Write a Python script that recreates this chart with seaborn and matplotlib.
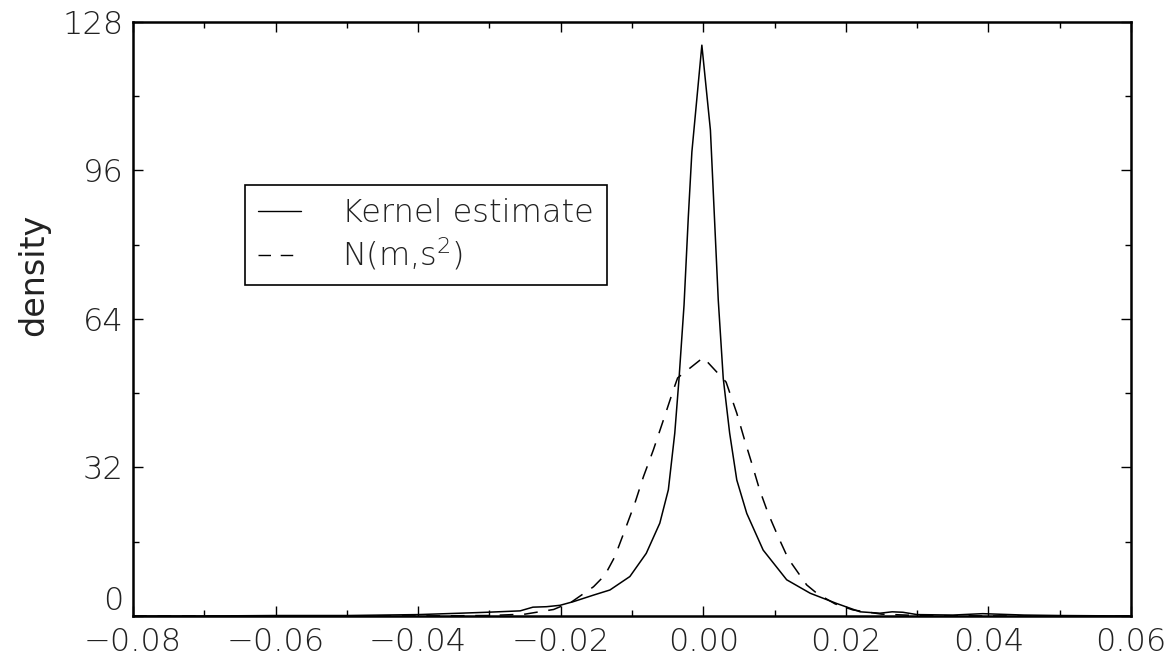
import matplotlib
matplotlib.use("Agg")
import matplotlib.pyplot as plt
from matplotlib.ticker import MultipleLocator
import seaborn as sns
import pandas as pd

# ---- data ----
kernel_x = [-0.080, -0.070, -0.060, -0.050, -0.045, -0.040, -0.0341, -0.0304, -0.0257,
            -0.0239, -0.0220, -0.0201, -0.0182, -0.0154, -0.0131, -0.0103, -0.0080,
            -0.0061, -0.0049, -0.0040, -0.0034, -0.0027, -0.0021, -0.0016, -0.0002,
            0.0010, 0.0021, 0.0028, 0.0037, 0.0047, 0.0061, 0.0084, 0.0117, 0.0150,
            0.0187, 0.0220, 0.0248, 0.0265, 0.0280, 0.0300, 0.0350, 0.0392, 0.0450,
            0.0500, 0.0600]
kernel_y = [0.0, 0.0, 0.1, 0.1, 0.2, 0.3, 0.6, 0.8, 1.1,
            1.9, 2.0, 2.3, 3.1, 4.5, 5.6, 8.5, 13.5,
            20.0, 27.2, 39.4, 51.2, 67.0, 86.0, 100.0, 123.0,
            104.7, 68.1, 51.2, 39.4, 29.3, 22.1, 14.2, 7.8, 4.9,
            2.7, 0.9, 0.6, 0.9, 0.8, 0.3, 0.2, 0.5, 0.2,
            0.1, 0.0]

normal_x = [-0.080, -0.040, -0.030, -0.025, -0.021, -0.0185, -0.0154, -0.0138, -0.0124,
            -0.0110, -0.0096, -0.0084, -0.0070, -0.0056, -0.0042, -0.0036, 0.0000,
            0.0032, 0.0047, 0.0058, 0.0068, 0.0079, 0.0091, 0.0105, 0.0119, 0.0145,
            0.0160, 0.0185, 0.0210, 0.0250, 0.0300, 0.0400, 0.0600]
normal_y = [0.0, 0.0, 0.1, 0.4, 1.4, 3.0, 6.3, 8.8, 12.8,
            18.5, 24.3, 30.0, 35.8, 42.2, 48.7, 51.3, 55.7,
            50.4, 43.7, 37.9, 32.9, 27.2, 22.1, 17.1, 12.4, 6.7,
            4.8, 2.6, 1.3, 0.4, 0.1, 0.0, 0.0]

series_labels = ["Kernel estimate", r"N(m,s$^2$)"]
x_ticks = [-0.08, -0.06, -0.04, -0.02, 0.00, 0.02, 0.04, 0.06]
x_tick_labels = ["\u22120.08", "\u22120.06", "\u22120.04", "\u22120.02", "0.00", "0.02", "0.04", "0.06"]
y_ticks = [0, 32, 64, 96, 128]
y_tick_labels = ["0", "32", "64", "96", "128"]
y_label = "density"

# ---- style ----
sns.set_style("white")
plt.rcParams["font.family"] = ["DejaVu Sans"]
plt.rcParams["font.weight"] = "light"
plt.rcParams["mathtext.fontset"] = "dejavusans"

fig = plt.figure(figsize=(11.72, 6.56), dpi=100)
ax = fig.add_axes([0.1135, 0.061, 0.8515, 0.9055])

df_k = pd.DataFrame({"x": kernel_x, "y": kernel_y})
df_n = pd.DataFrame({"x": normal_x, "y": normal_y})

sns.lineplot(data=df_k, x="x", y="y", ax=ax, color="black", linewidth=1.1,
             label=series_labels[0], sort=False, estimator=None)
sns.lineplot(data=df_n, x="x", y="y", ax=ax, color="black", linewidth=1.1,
             label=series_labels[1], sort=False, estimator=None, dashes=False)
ax.lines[1].set_dashes([9, 7])

ax.set_xlim(-0.08, 0.06)
ax.set_ylim(0, 128)
ax.set_xticks(x_ticks)
ax.set_xticklabels(x_tick_labels)
ax.set_yticks(y_ticks)
ax.set_yticklabels(y_tick_labels)
ax.xaxis.set_minor_locator(MultipleLocator(0.01))
ax.yaxis.set_minor_locator(MultipleLocator(16))

ax.tick_params(which="both", direction="in", top=True, right=True, bottom=True, left=True,
               colors="black", width=1.0)
ax.tick_params(which="major", length=7, labelsize=23)
ax.tick_params(which="minor", length=4)
ax.tick_params(axis="x", which="major", pad=8)
ax.tick_params(axis="y", which="major", pad=7)
for lab in ax.get_xticklabels() + ax.get_yticklabels():
    lab.set_color("#222222")
# the "0" on the y axis sits just above the corner in the reference
ax.get_yticklabels()[0].set_verticalalignment("bottom")

for sp in ax.spines.values():
    sp.set_visible(True)
    sp.set_color("black")
    sp.set_linewidth(1.8)

ax.set_xlabel("")
ax.set_ylabel(y_label, fontsize=24, color="#222222")
ax.yaxis.set_label_coords(-0.083, 0.574)

leg = ax.legend(loc="upper left", bbox_to_anchor=(0.112, 0.7256), borderaxespad=0,
                frameon=True, fancybox=False, fontsize=23, handlelength=1.35,
                handletextpad=1.3, borderpad=0.4, labelspacing=0.25)
leg.get_frame().set_edgecolor("black")
leg.get_frame().set_linewidth(1.2)
leg.get_frame().set_alpha(1)
for t in leg.get_texts():
    t.set_color("#222222")
for h in leg.get_lines():
    h.set_linewidth(1.0)

fig.savefig("out.png", dpi=100)
